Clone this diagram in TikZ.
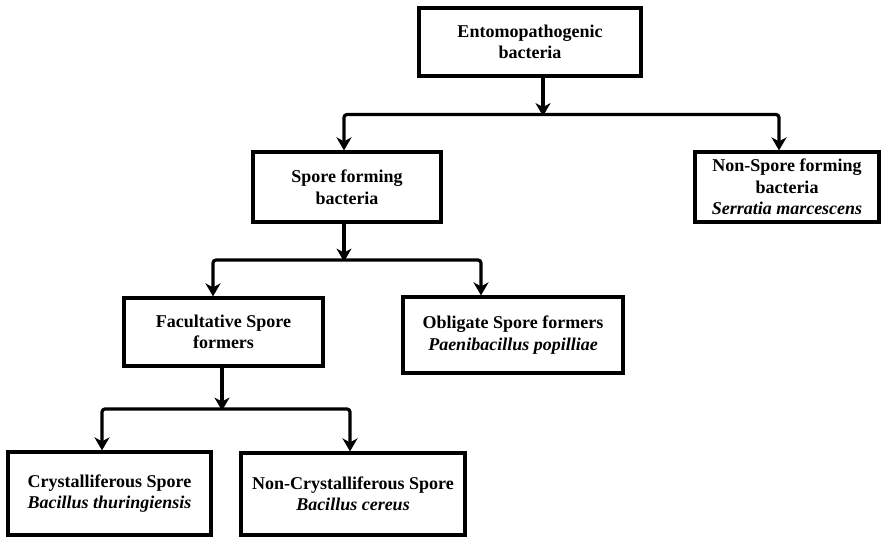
\documentclass[tikz,border=0pt]{standalone}
\usepackage{fontspec}
\setmainfont{Liberation Serif}
\usetikzlibrary{arrows.meta}
\begin{document}
\begin{tikzpicture}[x=1pt,y=-1pt,
  tip/.tip={Stealth[length=13pt,width=15pt,inset=4pt]},
  box/.style={draw, line width=3.2pt, rectangle, inner sep=0pt, align=center,
    font=\bfseries\fontsize{18}{21.5}\selectfont},
  link/.style={line width=3.2pt, rounded corners=3pt, -tip},
  bus/.style={line width=3.2pt, rounded corners=3pt, tip-tip}]
\useasboundingbox (0,0) rectangle (881,538);

% boxes
\node[box, minimum width=222pt, minimum height=68pt] (ento) at (530,42)
  {Entomopathogenic\\bacteria};
\node[box, minimum width=188pt, minimum height=70pt] (spore) at (347,187)
  {Spore forming\\bacteria};
\node[box, minimum width=184pt, minimum height=70pt] (nonspore) at (787,187)
  {Non-Spore forming\\bacteria\\\textit{Serratia marcescens}};
\node[box, minimum width=199pt, minimum height=68pt] (facult) at (223.5,332)
  {Facultative Spore\\formers};
\node[box, minimum width=220pt, minimum height=76pt] (oblig) at (513,335)
  {Obligate Spore formers\\\textit{Paenibacillus popilliae}};
\node[box, minimum width=203pt, minimum height=83pt] (cryst) at (109.5,493.5)
  {Crystalliferous Spore\\\textit{Bacillus thuringiensis}};
\node[box, minimum width=224pt, minimum height=82pt] (noncryst) at (353,494)
  {Non-Crystalliferous Spore\\\textit{Bacillus cereus}};

% bus junctions
\coordinate (j1) at (543,114.5);
\coordinate (j1l) at (344,114.5);
\coordinate (j1r) at (779,114.5);
\coordinate (j2) at (344,260);
\coordinate (j2l) at (213,260);
\coordinate (j2r) at (481,260);
\coordinate (j3) at (222,409);
\coordinate (j3l) at (102,409);
\coordinate (j3r) at (350,409);

% level 1
\draw[link] (ento.south -| j1) -- ([yshift=-1.6pt]j1);
\draw[bus] (spore.north -| j1l) -- (j1l) -- (j1r) -- (nonspore.north -| j1r);
% level 2
\draw[link] (spore.south -| j2) -- ([yshift=-1.6pt]j2);
\draw[bus] (facult.north -| j2l) -- (j2l) -- (j2r) -- (oblig.north -| j2r);
% level 3
\draw[link] (facult.south -| j3) -- ([yshift=-1.6pt]j3);
\draw[bus] (cryst.north -| j3l) -- (j3l) -- (j3r) -- (noncryst.north -| j3r);
\end{tikzpicture}
\end{document}
